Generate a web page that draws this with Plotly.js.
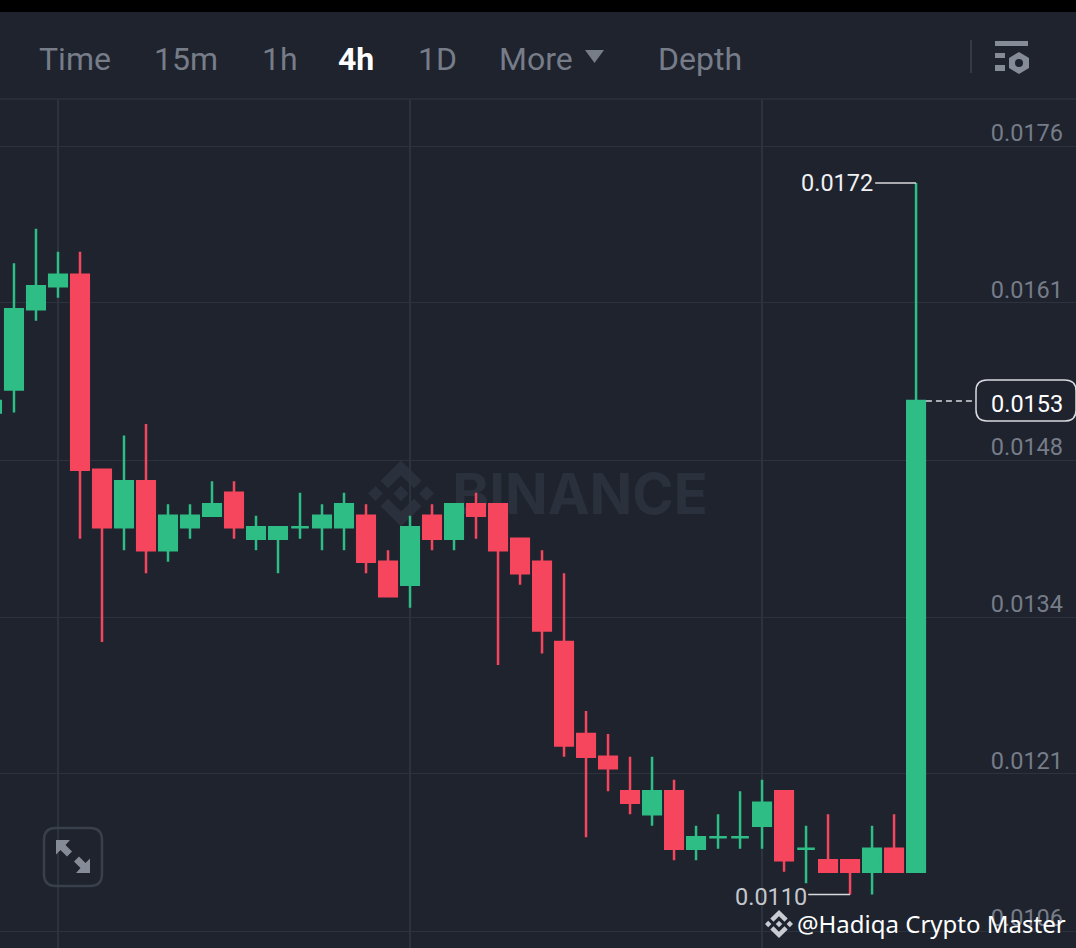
<!DOCTYPE html>
<html>
<head>
<meta charset="utf-8">
<script src="https://cdn.plot.ly/plotly-3.0.1.min.js"></script>
<style>html,body{margin:0;padding:0;background:#1e232e;overflow:hidden}#chart{width:1076px;height:948px}</style>
</head>
<body>
<div id="chart"></div>
<script>
// Candle data (4h candles, price in quote units)
const candleIndex = [-1,0,1,2,3,4,5,6,7,8,9,10,11,12,13,14,15,16,17,18,19,20,21,22,23,24,25,26,27,28,29,30,31,32,33,34,35,36,37,38,39,40,41];
const opens  = [0.0152,0.0154,0.0161,0.0163,0.0164,0.0147,0.0142,0.0146,0.0140,0.0142,0.0143,0.0145,0.0141,0.0141,0.0142,0.0142,0.0142,0.0143,0.0139,0.0137,0.0143,0.0141,0.0144,0.0144,0.0141,0.0139,0.0132,0.0124,0.0122,0.0119,0.0117,0.0119,0.0114,0.0115,0.0115,0.0116,0.0119,0.0114,0.0113,0.0113,0.0112,0.0114,0.0112];
const highs  = [0.0153,0.0165,0.0168,0.0166,0.0166,0.0147,0.0150,0.0151,0.0144,0.0144,0.0146,0.0146,0.0143,0.0142,0.0145,0.0144,0.0145,0.0144,0.0140,0.0143,0.0144,0.0144,0.0145,0.0144,0.0141,0.0140,0.0138,0.0126,0.0124,0.0122,0.0122,0.0120,0.0116,0.0117,0.0119,0.0120,0.0119,0.0116,0.0117,0.0113,0.0116,0.0117,0.0172];
const lows   = [0.0152,0.0152,0.0160,0.0162,0.0141,0.0132,0.0140,0.0138,0.0139,0.0141,0.0143,0.0141,0.0140,0.0138,0.0141,0.0140,0.0140,0.0138,0.0136,0.0135,0.0140,0.0140,0.0141,0.0130,0.0137,0.0131,0.0122,0.0115,0.0119,0.0117,0.0116,0.0113,0.0113,0.0114,0.0114,0.0114,0.0112,0.0111,0.0112,0.0110,0.0110,0.0112,0.0112];
const closes = [0.0153,0.0161,0.0163,0.0164,0.0147,0.0142,0.0146,0.0140,0.0143,0.0143,0.0144,0.0142,0.0142,0.0142,0.0142,0.0143,0.0144,0.0139,0.0136,0.0142,0.0141,0.0144,0.0143,0.0140,0.0138,0.0133,0.0123,0.0122,0.0121,0.0118,0.0119,0.0114,0.0115,0.0115,0.0115,0.0118,0.0113,0.0114,0.0112,0.0112,0.0114,0.0112,0.0153];

// Axis labels
const priceTickValues = [0.017521,0.016154,0.014786,0.013418,0.012051,0.010683];
const priceTickLabels = ['0.0176','0.0161','0.0148','0.0134','0.0121','0.0106'];
const timeGridIndex = [2,18,34];
const headerLabels = ['Time','15m','1h','4h','1D','More','Depth'];
const headerLabelLeft = [37,152,260,336,416,497,656];

const highLabel = '0.0172', highPrice = 0.0172, highIndex = 41;
const lowLabel = '0.0110', lowPrice = 0.0110, lowIndex = 38;
const lastLabel = '0.0153', lastPrice = 0.0153;

const W = 1076, H = 948, TOP = 100;
const GREEN = '#2ebd85', RED = '#f6465d', BG = '#1e232e', GRID = '#2d333e', MUTED = '#767c88';
const px = x => x / W;
const py = y => (H - y) / (H - TOP);
const pathOf = pts => 'M' + pts.map(p => px(p[0]) + ',' + py(p[1])).join('L') + 'Z';

function paperShape(path, fill, layer) {
  return {type:'path', xref:'paper', yref:'paper', path, fillcolor:fill, line:{width:0}, layer:layer||'above'};
}
function logoShapes(cx, cy, size, fill, layer) {
  const s = size / 126, m = (x, y) => [cx + (x - 63) * s, cy + (y - 63) * s];
  const polys = [
    [[38.2,53.2],[63,28.4],[87.8,53.2],[102.2,38.8],[63,0],[23.8,38.8]],
    [[38.2,72.8],[63,97.6],[87.8,72.8],[102.2,87.2],[63,126],[23.8,87.2]],
    [[0,63],[14.4,48.6],[28.8,63],[14.4,77.4]],
    [[126,63],[111.6,48.6],[97.2,63],[111.6,77.4]],
    [[63,48.4],[77.6,63],[63,77.6],[48.4,63]]
  ];
  return polys.map(pl => paperShape(pathOf(pl.map(p => m(p[0], p[1]))), fill, layer));
}
function roundRect(x0, y0, x1, y1, r) {
  return 'M' + px(x0 + r) + ',' + py(y0) + 'L' + px(x1 - r) + ',' + py(y0) +
    'Q' + px(x1) + ',' + py(y0) + ' ' + px(x1) + ',' + py(y0 + r) +
    'L' + px(x1) + ',' + py(y1 - r) + 'Q' + px(x1) + ',' + py(y1) + ' ' + px(x1 - r) + ',' + py(y1) +
    'L' + px(x0 + r) + ',' + py(y1) + 'Q' + px(x0) + ',' + py(y1) + ' ' + px(x0) + ',' + py(y1 - r) +
    'L' + px(x0) + ',' + py(y0 + r) + 'Q' + px(x0) + ',' + py(y0) + ' ' + px(x0 + r) + ',' + py(y0) + 'Z';
}
function pixelRect(x0, y0, x1, y1, fill) {
  return {type:'rect', xref:'paper', yref:'paper', x0:px(x0), x1:px(x1), y0:py(y0), y1:py(y1), fillcolor:fill, line:{width:0}};
}

const shapes = [
  pixelRect(0, 0, W, 12, '#000000'),
  {type:'line', xref:'paper', yref:'paper', x0:0, x1:1, y0:py(99), y1:py(99), line:{color:GRID, width:1.5}},
  {type:'line', xref:'paper', yref:'paper', x0:px(971), x1:px(971), y0:py(40), y1:py(73), line:{color:'#343a45', width:2}},
  paperShape(pathOf([[585,50],[604,50],[594.5,63]]), MUTED),
  // settings icon
  pixelRect(995, 41, 1028, 46, '#868c97'),
  pixelRect(995, 53, 1005, 58, '#868c97'),
  pixelRect(995, 65, 1005, 71, '#868c97'),
  paperShape(pathOf([[1019,52],[1029,58],[1029,68],[1019,74],[1009,68],[1009,58]]), '#868c97'),
  {type:'circle', xref:'paper', yref:'paper', x0:px(1015), x1:px(1023), y0:py(59), y1:py(67), fillcolor:BG, line:{width:0}},
  // expand button
  {type:'path', xref:'paper', yref:'paper', path:roundRect(44, 828, 102, 886, 12), line:{color:'#3a404b', width:2.5}, fillcolor:'rgba(0,0,0,0)'},
  paperShape(pathOf([[56,840],[70,840],[65.5,845],[72,851.5],[67,856.5],[60.5,850],[56,854.5]]), '#868c97'),
  paperShape(pathOf([[90,873],[76,873],[80.5,868],[74,861.5],[79,856.5],[85.5,863],[90,858.5]]), '#868c97'),
  // last price tag
  {type:'line', xref:'x', yref:'y', x0:highIndex + 0.45, x1:highIndex + 2.727, y0:lastPrice, y1:lastPrice, line:{color:'#d8dade', width:1.5, dash:'6px,4px'}},
  {type:'path', xref:'paper', yref:'paper', path:roundRect(976, 380, 1076, 421, 11), line:{color:'#d8dade', width:1.5}, fillcolor:BG},
  // high and low leader lines
  {type:'line', xref:'x', yref:'y', x0:highIndex - 1.86, x1:highIndex, y0:highPrice, y1:highPrice, line:{color:'#d8dade', width:1.5}},
  {type:'line', xref:'x', yref:'y', x0:lowIndex - 1.9, x1:lowIndex, y0:lowPrice, y1:lowPrice, line:{color:'#d8dade', width:1.5}},
  // watermark, below the candles
  {type:'rect', xref:'paper', yref:'paper', layer:'below', x0:px(450), x1:px(710), y0:py(470), y1:py(514),
   fillcolor:'rgba(0,0,0,0)', line:{width:0},
   label:{text:'BINANCE', textposition:'middle center', font:{family:'Inter, Roboto, sans-serif', size:56, color:'#2b313c', weight:700}}}
].concat(logoShapes(401, 493.5, 66, '#2b313c', 'below'), logoShapes(779, 924, 28, '#c8ccd2', 'above'));

const annotations = headerLabels.map((t, i) => ({
  xref:'paper', yref:'paper', x:px(headerLabelLeft[i]), y:py(59), xanchor:'left', yanchor:'middle', showarrow:false,
  text:t, font:{family:'Roboto, sans-serif', size:32, color:t === '4h' ? '#ffffff' : MUTED, weight:t === '4h' ? 700 : 400}
})).concat([
  {xref:'x', yref:'y', x:highIndex, y:highPrice, xanchor:'right', yanchor:'middle', xshift:-41, showarrow:false, text:highLabel,
   font:{family:'Roboto, sans-serif', size:23.5, color:'#f0f1f3'}},
  {xref:'x', yref:'y', x:lowIndex, y:lowPrice, xanchor:'right', yanchor:'middle', xshift:-41, yshift:-2, showarrow:false, text:lowLabel,
   font:{family:'Roboto, sans-serif', size:23.5, color:'#c4c7cc'}},
  {xref:'paper', yref:'paper', x:px(1065), y:py(404), xanchor:'right', yanchor:'middle', showarrow:false, text:lastLabel,
   font:{family:'Roboto, sans-serif', size:23.5, color:'#ffffff'}},
  {xref:'paper', yref:'paper', x:px(795), y:py(923), xanchor:'left', yanchor:'middle', showarrow:false, text:'@Hadiqa Crypto Master',
   font:{family:'Noto Sans, sans-serif', size:24, color:'#ffffff'}}
]);

const trace = {
  type:'candlestick', x:candleIndex, open:opens, high:highs, low:lows, close:closes,
  increasing:{line:{color:GREEN, width:2.5}, fillcolor:GREEN},
  decreasing:{line:{color:RED, width:2.5}, fillcolor:RED},
  whiskerwidth:0, hoverinfo:'skip', showlegend:false
};

const layout = {
  width:W, height:H, margin:{l:0, r:0, t:TOP, b:0},
  paper_bgcolor:BG, plot_bgcolor:BG, showlegend:false, boxgap:0.2, boxgroupgap:0,
  xaxis:{range:[-0.636, 48.27], rangeslider:{visible:false}, tickmode:'array', tickvals:timeGridIndex,
         showticklabels:false, ticks:'', showgrid:true, gridcolor:GRID, gridwidth:1.5, zeroline:false, showline:false},
  yaxis:{range:[0.010535, 0.017922], side:'right', tickmode:'array', tickvals:priceTickValues, ticktext:priceTickLabels,
         ticklabelposition:'inside', ticklabelshift:-13, ticklabelstandoff:10, ticks:'', showgrid:true, gridcolor:GRID, gridwidth:1,
         zeroline:false, showline:false, tickfont:{family:'Roboto, sans-serif', size:23.5, color:MUTED}},
  shapes, annotations
};
Plotly.newPlot('chart', [trace], layout, {displayModeBar:false, staticPlot:true});
</script>
</body>
</html>
